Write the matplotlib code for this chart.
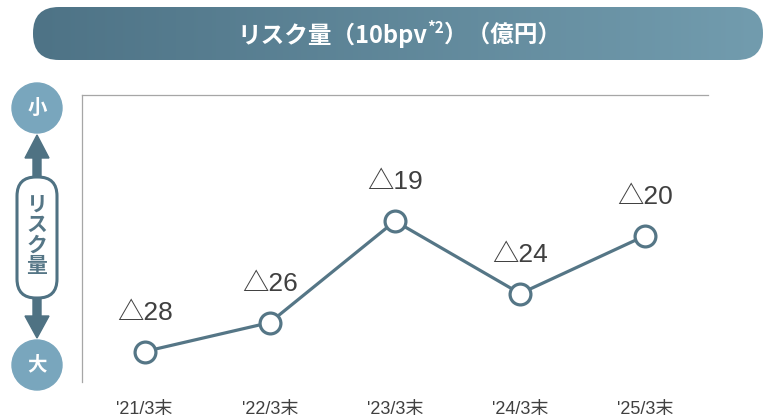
import numpy as np
import matplotlib
matplotlib.use('Agg')
import matplotlib.pyplot as plt
from matplotlib.patches import FancyBboxPatch, Circle, Polygon
from matplotlib.colors import LinearSegmentedColormap

# data (Δ = minus, in 億円)
periods = ["'21/3末", "'22/3末", "'23/3末", "'24/3末", "'25/3末"]
risk = [-28, -26, -19, -24, -20]
labels = ['△28', '△26', '△19', '△24', '△20']

linecol = '#557686'
darkcol = '#4f7283'
lightcol = '#79a6bd'
textcol = '#404040'
latin = ['Liberation Sans', 'Noto Sans CJK JP', 'DejaVu Sans']
cjk = ['Noto Sans CJK JP', 'DejaVu Sans']

W, H = 765, 419
fig = plt.figure(figsize=(W / 100, H / 100), dpi=100)

# pixel overlay for decorations
deco = fig.add_axes([0, 0, 1, 1], zorder=0)
deco.set_xlim(0, W)
deco.set_ylim(H, 0)
deco.axis('off')

# title banner with gradient
banner = FancyBboxPatch((33 + 26, 7 + 26), 730 - 52, 1, boxstyle='round,pad=26,rounding_size=26',
                        facecolor='none', edgecolor='none')
deco.add_patch(banner)
cmap = LinearSegmentedColormap.from_list('ban', ['#4e7386', '#729cae'])
grad = deco.imshow(np.linspace(0, 1, 256).reshape(1, -1), cmap=cmap, aspect='auto',
                   extent=(33, 763, 60, 7), zorder=1)
grad.set_clip_path(banner)
deco.set_xlim(0, W)
deco.set_ylim(H, 0)

# title text in three parts (superscript in the middle)
r = fig.canvas.get_renderer()
ty = 35
t1 = deco.text(0, ty, 'リスク量（10bpv', fontsize=17, fontweight='bold', color='white',
               family=cjk, va='center', ha='left', zorder=3)
t2 = deco.text(0, ty - 7, '*2', fontsize=11, fontweight='bold', color='white',
               family=cjk, va='center', ha='left', zorder=3)
t3 = deco.text(0, ty, '）（億円）', fontsize=17, fontweight='bold', color='white',
               family=cjk, va='center', ha='left', zorder=3)
w1 = t1.get_window_extent(r).width
w2 = t2.get_window_extent(r).width
w3 = t3.get_window_extent(r).width
x0 = 400 - (w1 + w2 + w3) / 2
t1.set_x(x0)
t2.set_x(x0 + w1)
t3.set_x(x0 + w1 + w2)

# left scale widget
cx = 37
deco.add_patch(Circle((cx, 108), 25, color=lightcol, zorder=2))
deco.add_patch(Circle((cx, 365), 25, color=lightcol, zorder=2))
deco.text(cx, 108, '小', fontsize=14, fontweight='bold', color='white', family=cjk,
          ha='center', va='center', zorder=3)
deco.text(cx, 365, '大', fontsize=14, fontweight='bold', color='white', family=cjk,
          ha='center', va='center', zorder=3)
arrow = [(cx, 135), (cx + 12, 158), (cx + 4, 158), (cx + 4, 316), (cx + 12, 316),
         (cx, 338), (cx - 12, 316), (cx - 4, 316), (cx - 4, 158), (cx - 12, 158)]
deco.add_patch(Polygon(arrow, closed=True, color=darkcol, zorder=2))
pill = FancyBboxPatch((cx - 1, 196), 2, 83, boxstyle='round,pad=19,rounding_size=19',
                      facecolor='white', edgecolor=darkcol, linewidth=2.2, zorder=2.5)
deco.add_patch(pill)
deco.text(cx, 235, 'リ\nス\nク\n量', fontsize=15, fontweight='bold', color=linecol,
          family=cjk, ha='center', va='center', linespacing=0.97, zorder=3)

# main chart
ax = fig.add_axes([82 / W, 1 - 382 / H, (708 - 82) / W, (382 - 95) / H], zorder=1)
ax.patch.set_alpha(0)
x = np.arange(len(periods))
ax.plot(x, risk, color=linecol, linewidth=2.3, marker='o', markersize=15,
        markerfacecolor='white', markeredgecolor=linecol, markeredgewidth=2.3, zorder=3)
for xi, yi, lab in zip(x, risk, labels):
    ax.annotate(lab, (xi, yi), xytext=(0, 23), textcoords='offset points',
                ha='center', va='baseline', fontsize=19, color=textcol, family=latin)
ax.set_xlim(-0.5, 4.5)
ax.set_ylim(-30.1, -10.3)
ax.set_xticks(x)
ax.set_xticklabels(periods, fontsize=13, color=textcol, family=['Liberation Sans', 'Noto Sans CJK JP'])
ax.tick_params(axis='x', length=0, pad=14)
ax.set_yticks([])
for s in ['bottom', 'right']:
    ax.spines[s].set_visible(False)
for s in ['left', 'top']:
    ax.spines[s].set_color('#a6a6a6')
    ax.spines[s].set_linewidth(0.9)

fig.savefig('out.png', dpi=100)
